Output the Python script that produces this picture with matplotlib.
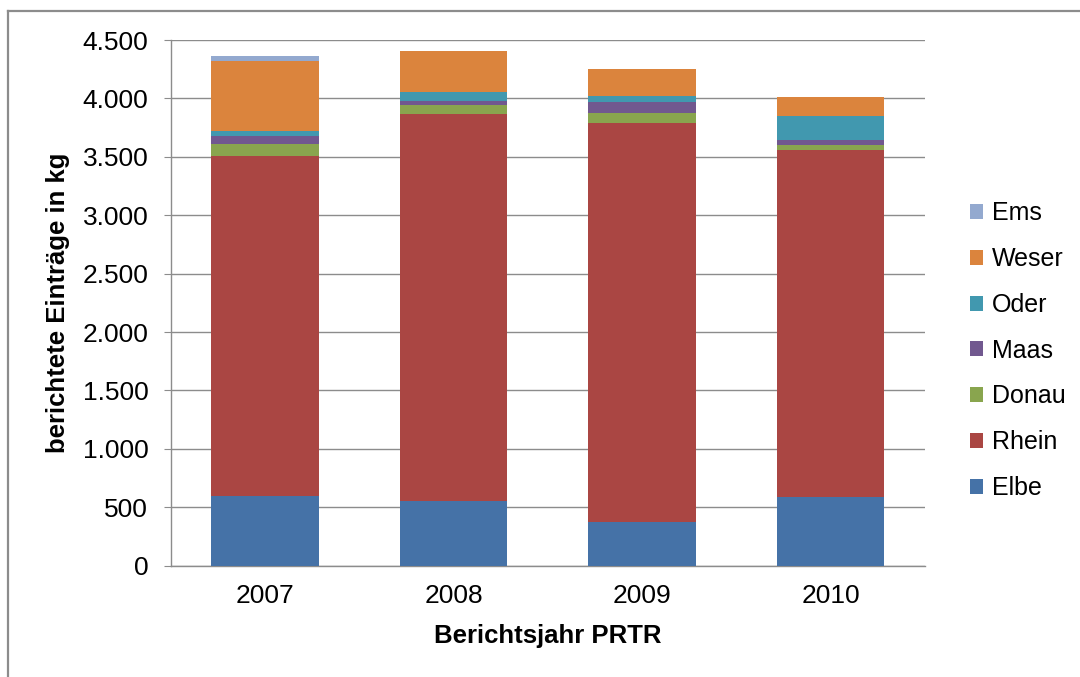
import matplotlib
matplotlib.use('Agg')
import matplotlib.pyplot as plt
from matplotlib.patches import Patch
from matplotlib.lines import Line2D
from matplotlib.ticker import FuncFormatter

plt.rcParams['font.family'] = ['Liberation Sans', 'DejaVu Sans']

years = ['2007', '2008', '2009', '2010']
elbe = [597, 551, 377, 586]
rhein = [2910, 3318, 3415, 2975]
donau = [105, 75, 86, 43]
maas = [69, 34, 89, 43]
oder = [43, 77, 56, 203]
weser = [596, 351, 229, 162]
ems = [43, 0, 0, 0]

series = [('Elbe', elbe, '#4572A7'),
          ('Rhein', rhein, '#AA4643'),
          ('Donau', donau, '#89A54E'),
          ('Maas', maas, '#71588F'),
          ('Oder', oder, '#4198AF'),
          ('Weser', weser, '#DB843D'),
          ('Ems', ems, '#93A9CF')]

fig = plt.figure(figsize=(10.8, 6.77), dpi=100)
ax = fig.add_axes([0.1579, 0.1644, 0.6986, 0.7765])

x = range(len(years))
bottom = [0] * len(years)
handles = []
for name, vals, col in series:
    ax.bar(x, vals, width=0.57, bottom=bottom, color=col, edgecolor='none', zorder=3)
    bottom = [b + v for b, v in zip(bottom, vals)]
    handles.append(Patch(facecolor=col, label=name))

ax.set_xlim(-0.5, 3.5)
ax.set_ylim(0, 4500)
ax.set_yticks(range(0, 4501, 500))
ax.yaxis.set_major_formatter(FuncFormatter(lambda v, p: f'{int(v):,}'.replace(',', '.')))
ax.set_xticks(list(x))
ax.set_xticklabels(years)
ax.grid(axis='y', color='#8c8c8c', linewidth=1, zorder=0)
for s in ['top', 'right']:
    ax.spines[s].set_visible(False)
for s in ['left', 'bottom']:
    ax.spines[s].set_color('#8c8c8c')
    ax.spines[s].set_linewidth(1)
ax.tick_params(axis='y', length=5, color='#8c8c8c', labelsize=19, pad=11)
ax.tick_params(axis='x', length=0, labelsize=19, pad=13)

ax.set_ylabel('berichtete Einträge in kg', fontsize=18.5, fontweight='bold')
ax.yaxis.label.set_va('center')
ax.yaxis.set_label_coords(-0.149, 0.5)
ax.set_xlabel('Berichtsjahr PRTR', fontsize=18.5, fontweight='bold')
ax.xaxis.label.set_va('center')
ax.xaxis.set_label_coords(0.5, -0.134)

ax.legend(handles=handles[::-1], loc='center left', bbox_to_anchor=(0.877, 0.482),
          bbox_transform=fig.transFigure, frameon=False, fontsize=18,
          handlelength=0.55, handleheight=0.55, handletextpad=0.35, labelspacing=0.87)

# outer chart frame (cropped on right and bottom)
fig.add_artist(Line2D([8 / 1080, 1], [1 - 11 / 677, 1 - 11 / 677], color='#8c8c8c', linewidth=1.6))
fig.add_artist(Line2D([8 / 1080, 8 / 1080], [0, 1 - 11 / 677], color='#8c8c8c', linewidth=1.6))

fig.savefig('out.png', dpi=100)
